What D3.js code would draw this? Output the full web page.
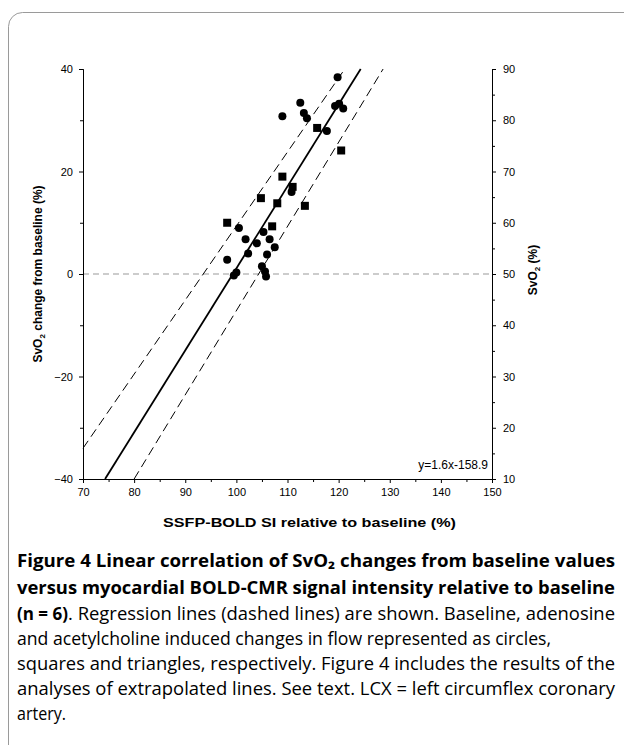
<!DOCTYPE html>
<html>
<head>
<meta charset="utf-8">
<title>SvO2 vs SSFP-BOLD</title>
<script src="https://d3js.org/d3.v7.min.js"></script>
<style>
  body { margin: 0; background: #fff; }
  text { font-family: "Liberation Sans", Arial, sans-serif; fill: #000; }
</style>
</head>
<body>
<svg width="624" height="745"></svg>
<script>
// baseline (circles) and adenosine (squares) measurements: [SI %, SvO2 change %]
var circles = [
  [119.8, 38.4], [112.5, 33.4], [113.2, 31.4], [113.8, 30.4], [117.7, 27.9],
  [119.3, 32.8], [120.1, 33.2], [120.9, 32.3], [109.0, 30.8],
  [98.2, 2.8], [99.5, -0.3], [100.0, 0.3], [100.5, 9.0], [101.8, 6.8],
  [102.3, 4.0], [104.0, 6.0], [105.0, 1.5], [105.3, 8.2], [105.6, 0.5],
  [105.8, -0.5], [106.0, 3.8], [106.5, 6.8], [107.5, 5.2], [110.8, 16.0]
];
var squares = [
  [115.8, 28.5], [120.5, 24.1], [113.4, 13.3], [98.2, 10.0], [104.8, 14.8],
  [107.0, 9.3], [108.0, 13.8], [109.0, 19.0], [111.0, 17.0]
];
var fit = {slope: 1.6, intercept: -158.9};
var bandUpper = [[70, -34], [121.2, 40]];
var bandLower = [[80, -40], [128.7, 40]];

var xTicks = [70, 80, 90, 100, 110, 120, 130, 140, 150];
var yTicks = [-40, -20, 0, 20, 40];
var y2Ticks = [10, 20, 30, 40, 50, 60, 70, 80, 90];

// caption pieces: [text, bold, x, width]
var caption = [
  [["Figure 4 Linear correlation of SvO₂ changes from baseline values", true, 17, 598]],
  [["versus myocardial BOLD-CMR signal intensity relative to baseline", true, 17, 598]],
  [["(n = 6)", true, 17, 51], [". Regression lines (dashed lines) are shown. Baseline, adenosine", false, 68, 547]],
  [["and acetylcholine induced changes in flow represented as circles,", false, 17, 534]],
  [["squares and triangles, respectively. Figure 4 includes the results of the", false, 17, 598]],
  [["analyses of extrapolated lines. See text. LCX = left circumflex coronary", false, 17, 598]],
  [["artery.", false, 17, 49]]
];

var svg = d3.select("svg");
svg.append("rect").attr("width", 624).attr("height", 745).attr("fill", "#fff");
svg.append("rect")
  .attr("x", 8.5).attr("y", 12.5).attr("width", 700).attr("height", 800)
  .attr("rx", 14).attr("fill", "none").attr("stroke", "#9a9a9a");

var x = d3.scaleLinear().domain([70, 150]).range([83, 492]),
    y = d3.scaleLinear().domain([-40, 40]).range([479, 69]),
    y2 = d3.scaleLinear().domain([10, 90]).range([479, 69]);

var g = svg.append("g");

// zero reference line
g.append("line")
  .attr("x1", x(70)).attr("x2", x(150)).attr("y1", y(0)).attr("y2", y(0))
  .attr("stroke", "#999").attr("stroke-dasharray", "6,4");

// axes
function styleAxis(sel) {
  sel.selectAll("text").style("font-size", "11px").style("font-family", "Liberation Sans, Arial, sans-serif");
  sel.selectAll("line,path").attr("stroke", "#000");
}
var xMinor = d3.range(75, 150, 10);
g.append("g").attr("transform", "translate(0," + y(-40) + ")")
  .call(d3.axisBottom(x).tickValues(xMinor).tickSize(3).tickFormat(""));
var xa = g.append("g").attr("transform", "translate(0," + y(-40) + ")")
  .call(d3.axisBottom(x).tickValues(xTicks).tickSize(4).tickSizeOuter(0).tickPadding(5).tickFormat(d3.format("d")));
styleAxis(xa);

g.append("g").attr("transform", "translate(" + x(70) + ",0)")
  .call(d3.axisLeft(y).tickValues([-30, -10, 10, 30]).tickSize(3).tickFormat(""));
var ya = g.append("g").attr("transform", "translate(" + x(70) + ",0)")
  .call(d3.axisLeft(y).tickValues(yTicks).tickSize(4).tickSizeOuter(0).tickPadding(6).tickFormat(d3.format("d")));
styleAxis(ya);

g.append("g").attr("transform", "translate(" + x(150) + ",0)")
  .call(d3.axisRight(y2).tickValues(d3.range(15, 90, 10)).tickSize(3).tickFormat(""));
var y2a = g.append("g").attr("transform", "translate(" + x(150) + ",0)")
  .call(d3.axisRight(y2).tickValues(y2Ticks).tickSize(4).tickSizeOuter(0).tickPadding(7).tickFormat(d3.format("d")));
styleAxis(y2a);
g.selectAll(".domain").attr("stroke", "#000");

// regression and confidence lines
var line = d3.line().x(d => x(d[0])).y(d => y(d[1]));
var fitPts = [-40, 40].map(v => [(v - fit.intercept) / fit.slope, v]);
g.append("path").attr("d", line(fitPts)).attr("stroke", "#000").attr("stroke-width", 1.8).attr("fill", "none");
[bandUpper, bandLower].forEach(b => {
  g.append("path").attr("d", line(b)).attr("stroke", "#000").attr("stroke-width", 1)
    .attr("stroke-dasharray", "9,5").attr("fill", "none");
});

// markers
g.selectAll(".circ").data(circles).enter().append("circle")
  .attr("cx", d => x(d[0])).attr("cy", d => y(d[1])).attr("r", 4).attr("fill", "#000");
g.selectAll(".sq").data(squares).enter().append("rect")
  .attr("x", d => x(d[0]) - 4).attr("y", d => y(d[1]) - 4).attr("width", 8).attr("height", 8).attr("fill", "#000");

// equation
g.append("text").attr("x", 488).attr("y", 469).attr("text-anchor", "end")
  .style("font-size", "12px").text("y=" + fit.slope + "x" + fit.intercept);

// axis titles
svg.append("text").attr("x", 163).attr("y", 527)
  .attr("textLength", 293).attr("lengthAdjust", "spacingAndGlyphs")
  .style("font-size", "13px").style("font-weight", "bold").text("SSFP-BOLD SI relative to baseline (%)");

var lt = svg.append("text").attr("transform", "translate(42,274) rotate(-90)").attr("text-anchor", "middle")
  .style("font-size", "12px").style("font-weight", "bold");
lt.append("tspan").text("SvO");
lt.append("tspan").attr("dy", 3).style("font-size", "8px").text("2");
lt.append("tspan").attr("dy", -3).text(" change from baseline (%)");

var rt = svg.append("text").attr("transform", "translate(537,270) rotate(-90)").attr("text-anchor", "middle")
  .style("font-size", "12px").style("font-weight", "bold");
rt.append("tspan").text("SvO");
rt.append("tspan").attr("dy", 3).style("font-size", "8px").text("2");
rt.append("tspan").attr("dy", -3).text(" (%)");

// caption
var baselines = [567, 594, 620, 645, 670, 695, 720];
caption.forEach((parts, i) => {
  parts.forEach(p => {
    svg.append("text").attr("x", p[2]).attr("y", baselines[i])
      .attr("textLength", p[3]).attr("lengthAdjust", "spacingAndGlyphs")
      .style("font-family", "Open Sans, Noto Sans, sans-serif")
      .style("font-size", "18px").style("font-weight", p[1] ? "bold" : "normal")
      .text(p[0]);
  });
});
</script>
</body>
</html>
